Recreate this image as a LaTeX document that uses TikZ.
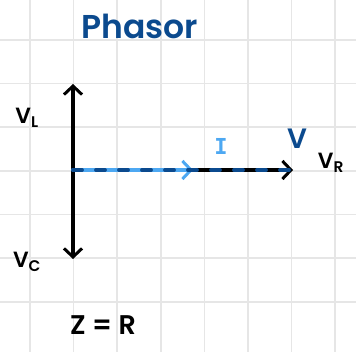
\documentclass[tikz,border=0pt]{standalone}
\usepackage{fontspec}
\setmainfont{Poppins}[BoldFont={Poppins SemiBold}]
\newfontfamily\monof{DejaVu Sans Mono}
\usetikzlibrary{arrows.meta}
\definecolor{darkblue}{HTML}{0B4A8E}
\definecolor{lightblue}{HTML}{4DA8F2}
\definecolor{gridgray}{HTML}{E6E6E6}
\begin{document}
\begin{tikzpicture}[x=1pt,y=-1pt,
  vec/.style={line width=3.8pt,line cap=round,-{Straight Barb[length=8.5pt,width=18pt,line width=3pt]}},
  lbl/.style={font=\fontsize{22}{22}\selectfont\bfseries,inner sep=0pt}]
\useasboundingbox (0,0) rectangle (356,352);
\fill[white] (0,0) rectangle (356,352);
\foreach \x in {30,73.5,117,161,204.5,248,291.5,335}
  \draw[gridgray,line width=1.3pt] (\x,0) -- (\x,352);
\foreach \y in {40,83.5,127,171,214.5,258,302}
  \draw[gridgray,line width=1.3pt] (0,\y) -- (356,\y);
\coordinate (O) at (73,170);
\coordinate (L) at (73,84);
\coordinate (C) at (73,259);
\coordinate (Ie) at (193,170);
\coordinate (R) at (293,170);
\draw[vec] (O) -- (L);
\draw[vec] (O) -- (C);
\draw[vec] (Ie) -- (R);
\draw[vec,lightblue] (O) -- (Ie);
\draw[darkblue,line width=3.8pt,dash pattern=on 9pt off 14pt,line cap=round] (O) -- (R);
\node[lbl,darkblue,font=\fontsize{33}{33}\selectfont\bfseries] (ph) at (140,26) {Phasor};
\node[lbl] (vl) at (27,118) {V\textsubscript{L}};
\node[lbl] (vc) at (27,262) {V\textsubscript{C}};
\node[lbl,lightblue,font=\monof\fontsize{22}{22}\selectfont\bfseries] (i) at (221,146) {I};
\node[lbl,darkblue,font=\fontsize{28}{28}\selectfont\bfseries] (v) at (297,139) {V};
\node[lbl] (vr) at (331,163) {V\textsubscript{R}};
\node[lbl,font=\fontsize{27}{27}\selectfont\bfseries] (z) at (103,325) {Z = R};
\end{tikzpicture}
\end{document}
